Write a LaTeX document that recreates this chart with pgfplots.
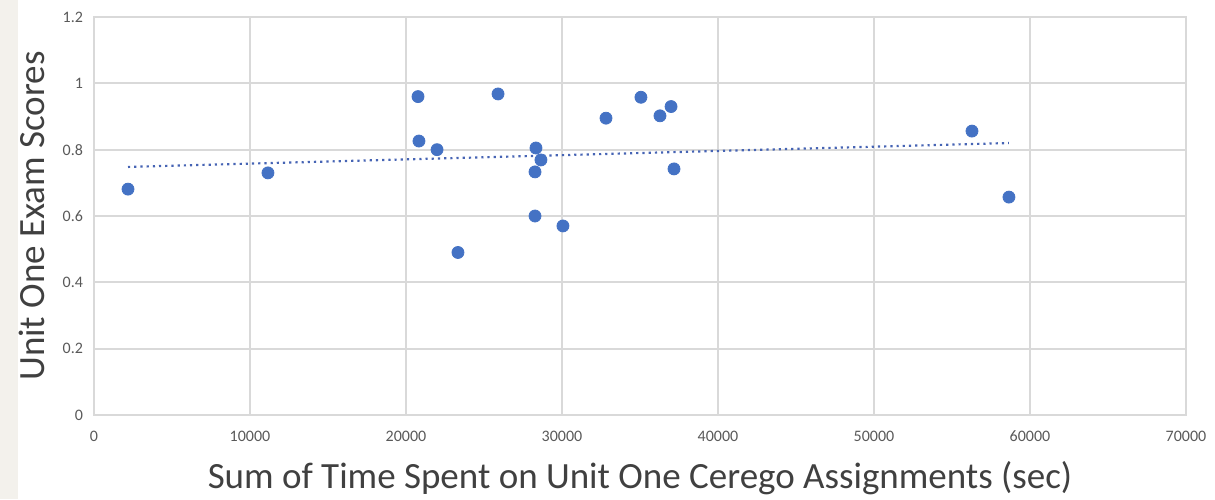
\documentclass[border=0pt]{standalone}
\usepackage{pgfplots}
\pgfplotsset{compat=1.18}
\usepackage{fontspec}
\setmainfont{Carlito}
\definecolor{ptblue}{RGB}{68,114,196}
\definecolor{trend}{RGB}{70,100,180}
\definecolor{gridc}{RGB}{217,217,217}
\definecolor{tickc}{RGB}{89,89,89}
\definecolor{labc}{RGB}{64,64,64}
\begin{document}
\begin{tikzpicture}[x=1pt,y=1pt]
\useasboundingbox (0,0) rectangle (607.5,249.5);
\fill[fill={rgb,255:red,243;green,241;blue,236}] (0,0) rectangle (9,249.5);
\begin{axis}[
  at={(47pt,42pt)}, anchor=south west,
  scale only axis, width=546pt, height=199pt,
  xmin=0, xmax=70000, ymin=0, ymax=1.2,
  xtick={0,10000,...,70000}, ytick={0,0.2,...,1.2},
  scaled x ticks=false,
  xticklabel style={/pgf/number format/fixed, /pgf/number format/1000 sep={}, yshift=-4.5pt},
  yticklabel style={/pgf/number format/fixed, /pgf/number format/precision=1, xshift=-2pt},
  /pgf/number format/assume math mode=true,
  grid=major, major grid style={gridc, line width=1pt},
  axis line style={gridc, line width=1pt},
  axis lines*=box,
  tick style={draw=none},
  ticklabel style={font=\fontsize{8}{9.5}\selectfont, text=tickc},
  xlabel={Sum of Time Spent on Unit One Cerego Assignments (sec)},
  ylabel={Unit One Exam Scores},
  label style={font=\fontsize{18.5}{22}\selectfont, text=labc},
  xlabel style={yshift=-3pt},
  ylabel style={yshift=2pt},
  clip=false,
]
\addplot[trend, line width=1.1pt, dotted] coordinates {(2180,0.748) (58650,0.820)};
\addplot[only marks, mark=*, mark size=3pt, mark options={fill=ptblue, draw=ptblue}] coordinates {
(2180,0.681)
(11150,0.730)
(20770,0.960)
(20830,0.826)
(21990,0.800)
(23330,0.490)
(25900,0.968)
(28330,0.805)
(28650,0.769)
(28270,0.733)
(28270,0.600)
(30060,0.570)
(32820,0.895)
(35060,0.958)
(36280,0.902)
(36990,0.930)
(37180,0.742)
(56280,0.856)
(58650,0.657)
};
\end{axis}
\end{tikzpicture}
\end{document}
